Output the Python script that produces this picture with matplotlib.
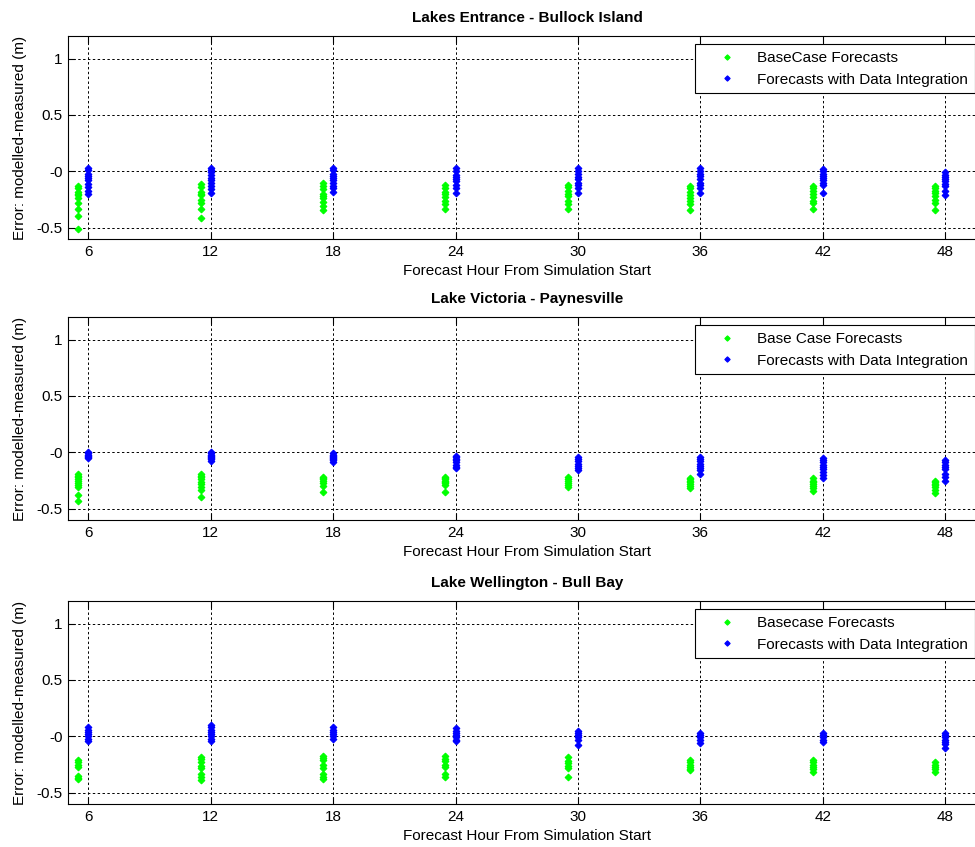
import matplotlib
matplotlib.use("Agg")
import matplotlib.pyplot as plt
from matplotlib.ticker import FixedLocator, FixedFormatter

plt.rcParams['font.family'] = ['Liberation Sans', 'DejaVu Sans']

hours = [6, 12, 18, 24, 30, 36, 42, 48]
yticks = [-0.5, 0, 0.5, 1]
ytick_labels = ['-0.5', '-0', '0.5', '1']

titles = ['Lakes Entrance - Bullock Island', 'Lake Victoria - Paynesville', 'Lake Wellington - Bull Bay']
base_labels = ['BaseCase Forecasts', 'Base Case Forecasts', 'Basecase Forecasts']
di_label = 'Forecasts with Data Integration'

le_base = [
    [-0.13, -0.15, -0.18, -0.20, -0.21, -0.24, -0.28, -0.33, -0.40, -0.51],
    [-0.11, -0.14, -0.18, -0.20, -0.21, -0.25, -0.28, -0.33, -0.41],
    [-0.10, -0.13, -0.16, -0.20, -0.22, -0.24, -0.27, -0.31, -0.34],
    [-0.12, -0.15, -0.18, -0.20, -0.23, -0.26, -0.29, -0.33],
    [-0.12, -0.14, -0.17, -0.20, -0.22, -0.26, -0.29, -0.33],
    [-0.13, -0.15, -0.18, -0.21, -0.24, -0.26, -0.29, -0.34],
    [-0.13, -0.15, -0.17, -0.20, -0.23, -0.26, -0.28, -0.33],
    [-0.13, -0.15, -0.17, -0.19, -0.22, -0.25, -0.28, -0.34],
]
le_di = [
    [0.03, 0.01, -0.02, -0.04, -0.06, -0.08, -0.11, -0.14, -0.17, -0.20],
    [0.03, 0.01, -0.01, -0.03, -0.06, -0.08, -0.10, -0.13, -0.16, -0.19],
    [0.03, 0.01, -0.02, -0.04, -0.06, -0.08, -0.10, -0.13, -0.15, -0.18],
    [0.03, 0.00, -0.03, -0.05, -0.07, -0.09, -0.12, -0.15, -0.19],
    [0.03, 0.00, -0.02, -0.05, -0.07, -0.10, -0.12, -0.15, -0.19],
    [0.03, 0.00, -0.02, -0.04, -0.07, -0.10, -0.12, -0.15, -0.19],
    [0.02, 0.00, -0.02, -0.04, -0.06, -0.08, -0.10, -0.12, -0.19],
    [-0.01, -0.03, -0.05, -0.07, -0.09, -0.11, -0.13, -0.17, -0.21],
]
lv_base = [
    [-0.19, -0.21, -0.22, -0.24, -0.25, -0.27, -0.29, -0.31, -0.38, -0.43],
    [-0.19, -0.21, -0.22, -0.24, -0.26, -0.28, -0.31, -0.33, -0.40],
    [-0.22, -0.23, -0.24, -0.25, -0.27, -0.30, -0.35],
    [-0.22, -0.23, -0.24, -0.25, -0.26, -0.27, -0.29, -0.35],
    [-0.22, -0.24, -0.25, -0.27, -0.29, -0.31],
    [-0.23, -0.24, -0.25, -0.26, -0.28, -0.30, -0.32],
    [-0.23, -0.25, -0.26, -0.28, -0.30, -0.32, -0.34],
    [-0.25, -0.26, -0.28, -0.29, -0.31, -0.33, -0.36],
]
lv_di = [
    [0.00, -0.01, -0.02, -0.03, -0.04, -0.05],
    [0.00, -0.01, -0.02, -0.03, -0.04, -0.05, -0.06, -0.08],
    [-0.01, -0.02, -0.03, -0.04, -0.05, -0.06, -0.07, -0.09],
    [-0.03, -0.04, -0.06, -0.07, -0.09, -0.11, -0.13, -0.14],
    [-0.04, -0.06, -0.08, -0.10, -0.12, -0.14, -0.16],
    [-0.04, -0.06, -0.08, -0.10, -0.12, -0.14, -0.16, -0.19],
    [-0.05, -0.07, -0.09, -0.11, -0.13, -0.15, -0.17, -0.20, -0.23],
    [-0.07, -0.09, -0.11, -0.13, -0.15, -0.19, -0.22, -0.25],
]
lw_base = [
    [-0.21, -0.23, -0.25, -0.27, -0.35, -0.37, -0.38],
    [-0.18, -0.20, -0.23, -0.26, -0.28, -0.33, -0.36, -0.39],
    [-0.17, -0.19, -0.21, -0.25, -0.28, -0.33, -0.36, -0.38],
    [-0.17, -0.20, -0.22, -0.25, -0.27, -0.33, -0.36],
    [-0.18, -0.22, -0.24, -0.26, -0.28, -0.36],
    [-0.21, -0.23, -0.25, -0.27, -0.29, -0.30],
    [-0.21, -0.23, -0.25, -0.27, -0.29, -0.32],
    [-0.23, -0.25, -0.27, -0.29, -0.32],
]
lw_di = [
    [0.08, 0.06, 0.04, 0.02, 0.00, -0.02, -0.04],
    [0.10, 0.08, 0.06, 0.04, 0.02, 0.00, -0.02, -0.04],
    [0.08, 0.06, 0.04, 0.02, 0.00, -0.02],
    [0.07, 0.05, 0.03, 0.01, -0.01, -0.03, -0.04],
    [0.05, 0.03, 0.01, -0.01, -0.03, -0.08],
    [0.03, 0.01, -0.01, -0.03, -0.06],
    [0.03, 0.01, -0.01, -0.03, -0.05],
    [0.03, 0.01, -0.01, -0.03, -0.05, -0.07, -0.10],
]

panels = [(le_base, le_di), (lv_base, lv_di), (lw_base, lw_di)]
base_offset = 0.5  # green series drawn slightly left of each forecast hour

W, H = 975, 847
fig = plt.figure(figsize=(W / 100, H / 100), dpi=100)
fig.patch.set_facecolor('white')

ax_left = 68 / W
ax_width = 918 / W
tops = [36, 317, 601]
ax_h = 203
fs = 11

for i, (base, di) in enumerate(panels):
    top = tops[i]
    ax = fig.add_axes([ax_left, 1 - (top + ax_h) / H, ax_width, ax_h / H])
    bx, by, dx, dy = [], [], [], []
    for h, bv, dv in zip(hours, base, di):
        bx += [h - base_offset] * len(bv)
        by += bv
        dx += [h] * len(dv)
        dy += dv
    ax.plot(bx, by, linestyle='none', marker='D', markersize=3.4, color=(0, 1, 0),
            markeredgewidth=0.8, label=base_labels[i])
    ax.plot(dx, dy, linestyle='none', marker='D', markersize=3.4, color=(0, 0, 1),
            markeredgewidth=0.8, label=di_label)
    ax.set_xlim(5, 50)
    ax.set_ylim(-0.6, 1.2)
    ax.xaxis.set_major_locator(FixedLocator(hours))
    ax.set_xticklabels([str(h) for h in hours])
    ax.yaxis.set_major_locator(FixedLocator(yticks))
    ax.yaxis.set_major_formatter(FixedFormatter(ytick_labels))
    ax.grid(True, color='black', linestyle=(0, (2.5, 2.5)), linewidth=0.7)
    ax.set_axisbelow(True)
    ax.tick_params(direction='in', top=True, right=True, length=5, width=0.8,
                   labelsize=fs, pad=4)
    for s in ax.spines.values():
        s.set_linewidth(0.8)
    ax.set_title(titles[i], fontsize=fs, fontweight='bold', pad=10)
    ax.set_xlabel('Forecast Hour From Simulation Start', fontsize=fs, labelpad=4)
    ax.set_ylabel('Error: modelled-measured (m)', fontsize=fs, labelpad=7)
    leg = ax.legend(loc='upper left', bbox_to_anchor=((695 - 68) / 918, 1 - 8 / ax_h),
                    fancybox=False, framealpha=1, edgecolor='black', fontsize=fs,
                    handletextpad=0.3, handlelength=3.3, borderaxespad=0, markerscale=0.8,
                    borderpad=0.45, labelspacing=0.5)
    leg.get_frame().set_linewidth(0.8)

fig.savefig('out.png', dpi=100, facecolor='white')
